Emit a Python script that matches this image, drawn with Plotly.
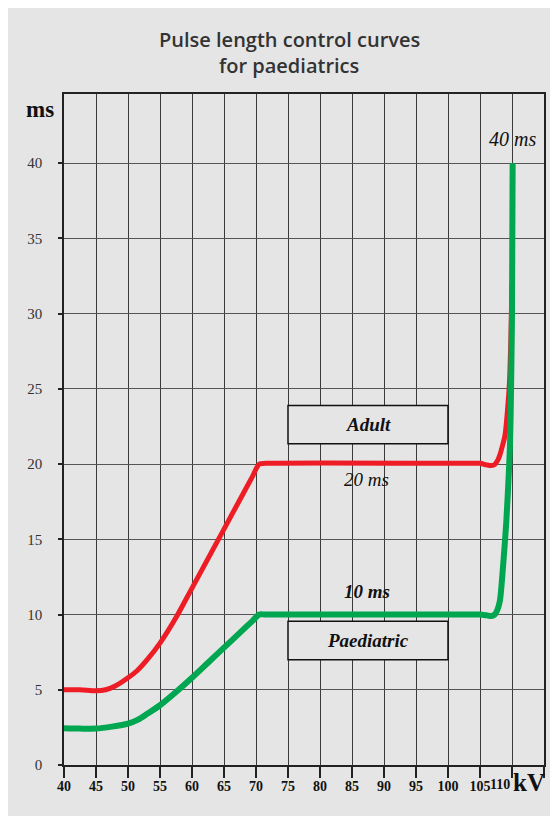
import plotly.graph_objects as go

# ---- data ----
adult_kv = [40, 42.5, 45, 46.5, 48, 50, 51.5, 53, 55, 57.5, 60, 62.5, 65, 67.5, 69.5, 70.5, 71.5,
            104, 105, 106, 106.8, 107.3, 107.7, 108.1, 108.5, 108.9, 109.3, 109.6, 109.8, 110.0]
adult_ms = [5.0, 5.0, 4.93, 5.0, 5.25, 5.8, 6.3, 7.0, 8.1, 9.8, 11.76, 13.72, 15.68, 17.65, 19.22, 20.0, 20.05,
            20.05, 20.05, 19.95, 19.9, 19.97, 20.2, 20.6, 21.2, 21.9, 23.6, 25.4, 28.0, 32.0]

paed_kv = [40, 42.5, 45, 47.5, 50, 51.5, 53, 55, 57.5, 60, 62.5, 65, 67.5, 69.5, 70.5, 71.5,
           104, 105, 106, 106.8, 107.3, 107.7, 108.1, 108.6, 109.1, 109.5, 109.7, 109.85, 110.0, 110.1]
paed_ms = [2.45, 2.42, 2.42, 2.55, 2.75, 3.0, 3.4, 3.97, 4.85, 5.8, 6.8, 7.8, 8.8, 9.6, 10.0, 10.0,
           10.0, 10.0, 9.95, 9.9, 10.0, 10.3, 10.9, 13.2, 16.1, 19.4, 21.5, 25.0, 30.0, 40.0]

x_ticks = [40, 45, 50, 55, 60, 65, 70, 75, 80, 85, 90, 95, 100, 105, 110, 115]
x_tick_text = ["40", "45", "50", "55", "60", "65", "70", "75", "80", "85", "90",
               "95", "100", "105", "", ""]
y_ticks = [0, 5, 10, 15, 20, 25, 30, 35, 40]
y_tick_text = ["0", "5", "10", "15", "20", "25", "30", "35", "40"]

title_lines = ["Pulse length control curves", "for paediatrics"]

BG = "#e5e5e5"
RED = "#ee1d25"
GREEN = "#00a650"
SERIF = "Liberation Serif, Times New Roman, serif"

fig = go.Figure()
fig.add_trace(go.Scatter(x=adult_kv, y=adult_ms, mode="lines",
                         line=dict(color=RED, width=5, shape="spline", smoothing=0.8),
                         name="Adult", hoverinfo="skip"))
fig.add_trace(go.Scatter(x=paed_kv, y=paed_ms, mode="lines",
                         line=dict(color=GREEN, width=6, shape="spline", smoothing=0.8),
                         name="Paediatric", hoverinfo="skip"))

W, H = 558, 816
ML, MR, MT, MB = 56, 22, 86, 59
PW, PH = W - ML - MR, H - MT - MB


def px(xp):
    return (xp - ML) / PW


def py(yp):
    return (H - MB - yp) / PH


shapes = [
    dict(type="rect", x0=75, x1=100, y0=21.36, y1=23.9, fillcolor=BG,
         line=dict(color="#111", width=1.5), layer="above"),
    dict(type="rect", x0=75, x1=100, y0=7.0, y1=9.55, fillcolor=BG,
         line=dict(color="#111", width=1.5), layer="above"),
]

C = dict(xanchor="center", yanchor="middle", showarrow=False)
TFONT = dict(family="Open Sans", size=20, color="#333", weight=600)
annotations = [
    dict(text=title_lines[0], xref="paper", yref="paper", x=px(281), y=py(32),
         font=TFONT, **C),
    dict(text=title_lines[1], xref="paper", yref="paper", x=px(281), y=py(57),
         font=TFONT, **C),
    dict(text="<b>ms</b>", xref="paper", yref="paper", x=px(31.5), y=py(101),
         font=dict(family=SERIF, size=23, color="#111"), **C),
    dict(text="<b>kV</b>", xref="paper", yref="paper", x=px(520.5), y=py(774),
         font=dict(family=SERIF, size=25, color="#111"), **C),
    dict(text="<b>110</b>", x=110, xref="x", yref="paper", y=py(776.5),
         xshift=-12, font=dict(family=SERIF, size=14, color="#111"), **C),
    dict(text="<b><i>Adult</i></b>", x=87.5, y=22.63,
         font=dict(family=SERIF, size=19, color="#111"), **C),
    dict(text="<i>20 ms</i>", x=87.3, y=19.0,
         font=dict(family=SERIF, size=19, color="#111"), **C),
    dict(text="<b><i>10 ms</i></b>", x=87.3, y=11.55,
         font=dict(family=SERIF, size=19, color="#111"), **C),
    dict(text="<b><i>Paediatric</i></b>", x=87.5, y=8.28,
         font=dict(family=SERIF, size=19, color="#111"), **C),
    dict(text="<i>40 ms</i>", x=110, y=41.6,
         font=dict(family=SERIF, size=20, color="#111"), **C),
]

fig.update_layout(
    width=W, height=H,
    margin=dict(l=ML, r=MR, t=MT, b=MB),
    paper_bgcolor=BG,
    plot_bgcolor=BG,
    showlegend=False,
    shapes=shapes,
    annotations=annotations,
)

fig.update_xaxes(range=[40, 115], tickmode="array", tickvals=x_ticks,
                 ticktext=x_tick_text, ticks="outside", ticklen=11,
                 tickcolor="#222", tickwidth=1.5,
                 showgrid=True, gridcolor="#3a3a3a", gridwidth=1.3,
                 showline=True, linecolor="#222", linewidth=1.6, mirror=True,
                 zeroline=False, fixedrange=True, ticklabelstandoff=-4,
                 tickfont=dict(family=SERIF, size=14, color="#111", weight="bold"))
fig.update_yaxes(range=[0, 44.6], tickmode="array", tickvals=y_ticks,
                 ticktext=y_tick_text, ticks="outside", ticklen=4,
                 tickcolor="#222", tickwidth=1.5,
                 showgrid=True, gridcolor="#555", gridwidth=1.3,
                 showline=True, linecolor="#222", linewidth=1.6, mirror=True,
                 zeroline=False, fixedrange=True, ticklabelstandoff=13,
                 tickfont=dict(family=SERIF, size=15, color="#333"))

fig.write_html("out.html")
